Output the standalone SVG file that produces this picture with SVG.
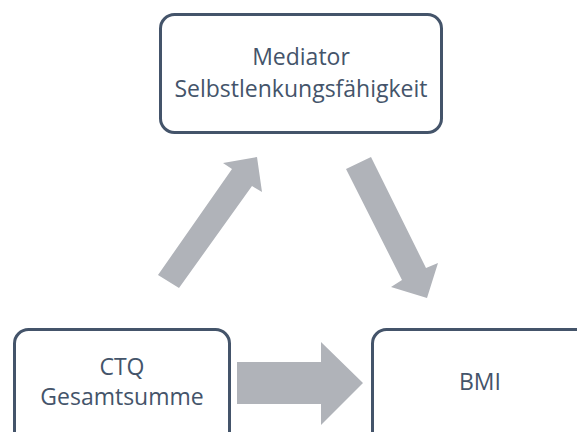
<svg xmlns="http://www.w3.org/2000/svg" width="577" height="432" viewBox="0 0 577 432">
<style>
.box{fill:#ffffff;stroke:#44546a;stroke-width:3}
.lbl{font-family:"Open Sans","Liberation Sans",Arial,sans-serif;font-size:23px;fill:#44546a;text-anchor:middle}
.arr{fill:#b0b3b9}
</style>
<rect width="577" height="432" fill="#ffffff"/>
<g id="connectors">
<polygon class="arr" points="237,362 321,362 321,342 363,383 321,425 321,404 237,404"/>
<polygon class="arr" points="158,275 232,169 223,163 257,157 262,192 252,186 179,288"/>
<polygon class="arr" points="346,169 371,157 426,268 438,263 427,298 391,287 402,280"/>
</g>
<g id="mediator">
<rect class="box" x="160.5" y="14.5" width="281" height="118" rx="14"/>
<text class="lbl" x="301" y="65">Mediator</text>
<text class="lbl" x="301" y="97">Selbstlenkungsfähigkeit</text>
</g>
<g id="ctq">
<rect class="box" x="14.5" y="329.5" width="215" height="130" rx="14"/>
<text class="lbl" x="122" y="375">CTQ</text>
<text class="lbl" x="122" y="405">Gesamtsumme</text>
</g>
<g id="bmi">
<rect class="box" x="372.5" y="329.5" width="230" height="130" rx="14"/>
<text class="lbl" x="480" y="390">BMI</text>
</g>
</svg>
